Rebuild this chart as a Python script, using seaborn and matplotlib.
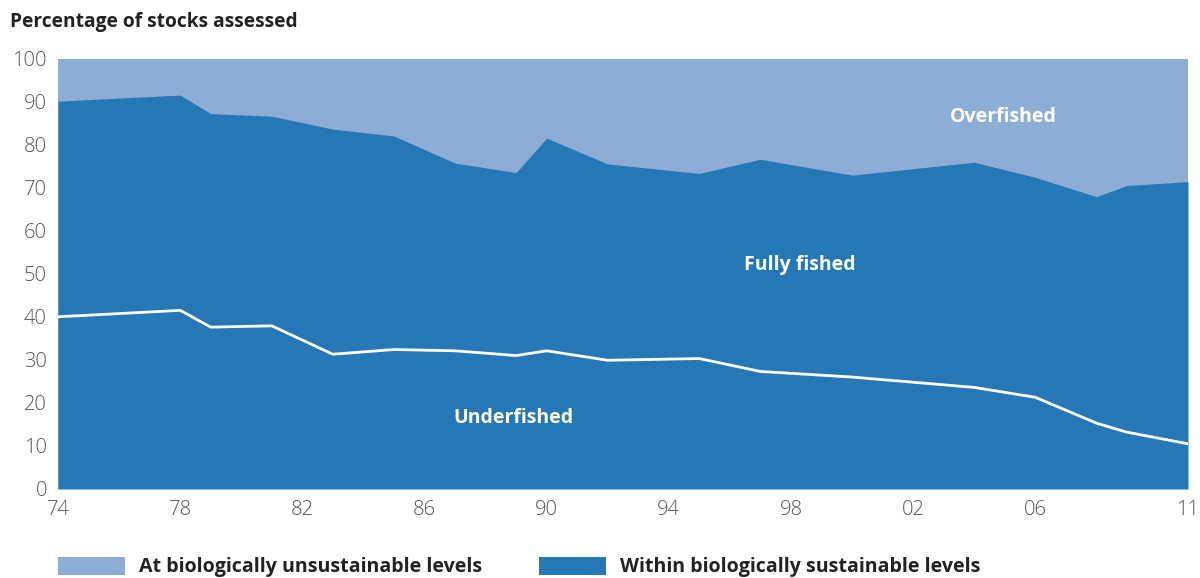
import matplotlib
matplotlib.use("Agg")
import matplotlib.pyplot as plt
import seaborn as sns
from matplotlib.patches import Patch

years = [1974, 1978, 1979, 1981, 1983, 1985, 1987, 1989, 1990, 1992,
         1995, 1997, 2000, 2004, 2006, 2008, 2009, 2011]
# upper edge of the "within sustainable levels" area (underfished + fully fished)
sustainable = [90.1, 91.5, 87.2, 86.6, 83.6, 82.0, 75.7, 73.5, 81.5, 75.5,
               73.3, 76.6, 72.9, 75.9, 72.4, 67.9, 70.5, 71.4]
underfished = [40.0, 41.5, 37.6, 37.9, 31.3, 32.4, 32.1, 31.0, 32.1, 29.9,
               30.3, 27.3, 26.0, 23.6, 21.3, 15.3, 13.2, 10.5]

tick_years = [1974, 1978, 1982, 1986, 1990, 1994, 1998, 2002, 2006, 2011]
tick_labels = ["74", "78", "82", "86", "90", "94", "98", "02", "06", "11"]

light = "#8dadd5"
dark = "#2577b5"

sns.set_theme(style="white")
plt.rcParams["font.family"] = ["Open Sans", "DejaVu Sans"]

fig = plt.figure(figsize=(12, 5.78), dpi=100)
ax = fig.add_axes([58 / 1200, 1 - 489 / 578, (1188 - 58) / 1200, (489 - 58.5) / 578])

ax.fill_between(years, 0, 100, color=light, linewidth=0)
ax.fill_between(years, 0, sustainable, color=dark, linewidth=0)
sns.lineplot(x=years, y=underfished, color="white", linewidth=2, ax=ax)

ax.set_xlim(1974, 2011)
ax.set_ylim(0, 100)
ax.set_xticks(tick_years)
ax.set_xticklabels(tick_labels)
ax.set_yticks(range(0, 101, 10))
ax.tick_params(axis="both", length=0, labelsize=14.5, labelcolor="#555555", pad=8)
for lab in ax.get_xticklabels() + ax.get_yticklabels():
    lab.set_fontweight("light")
for s in ax.spines.values():
    s.set_visible(False)
ax.set_xlabel("")
ax.set_ylabel("")

ax.text(2004.95, 86.3, "Overfished", color="white", fontsize=14, fontweight="bold",
        ha="center", va="center")
ax.text(1998.3, 52.0, "Fully fished", color="white", fontsize=14, fontweight="bold",
        ha="center", va="center")
ax.text(1988.9, 16.5, "Underfished", color="white", fontsize=14, fontweight="bold",
        ha="center", va="center")

fig.text(10 / 1200, 1 - 22 / 578, "Percentage of stocks assessed", fontsize=13.8,
         fontweight="bold", color="#222222", ha="left", va="center")

handles = [Patch(facecolor=light, edgecolor="none"),
           Patch(facecolor=dark, edgecolor="none")]
leg = fig.legend(handles,
                 ["At biologically unsustainable levels", "Within biologically sustainable levels"],
                 loc="upper left", bbox_to_anchor=(58 / 1200, 1 - 557 / 578), ncol=2,
                 frameon=False, borderpad=0, borderaxespad=0,
                 handlelength=3.4, handleheight=1.0, handletextpad=0.75, columnspacing=2.9,
                 prop={"weight": "bold", "size": 14.1})
for t in leg.get_texts():
    t.set_color("#222222")

fig.savefig("out.png", dpi=100)
